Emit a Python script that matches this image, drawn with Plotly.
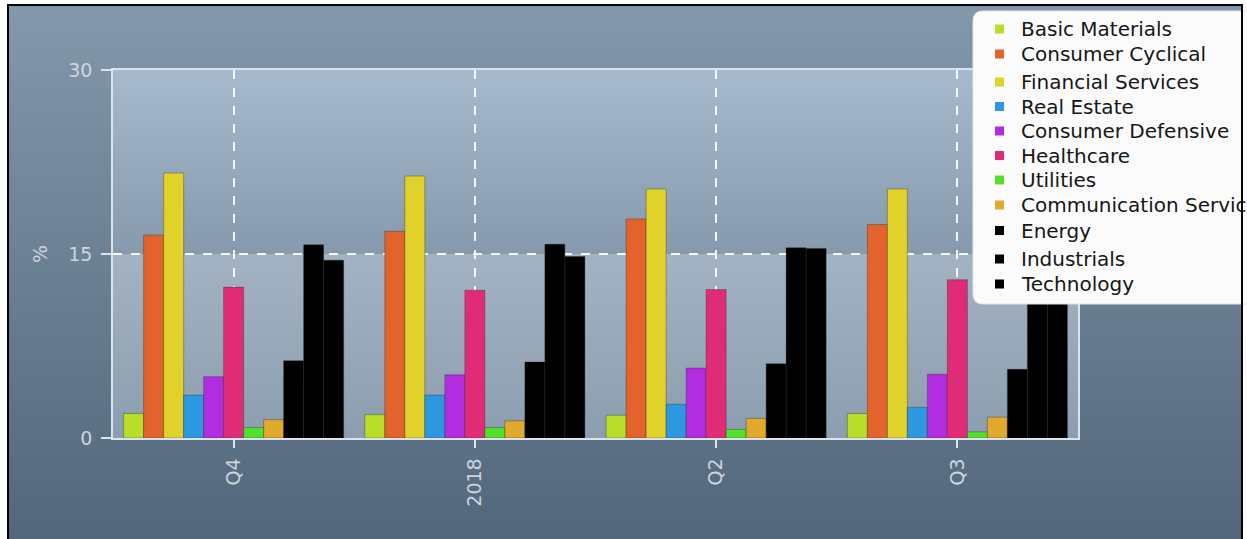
import base64
import plotly.graph_objects as go

# ---------------- data ----------------
categories = ["Q4", "2018", "Q2", "Q3"]

basic_materials = [2.0, 1.9, 1.85, 2.0]
consumer_cyclical = [16.55, 16.85, 17.85, 17.4]
financial_services = [21.6, 21.35, 20.3, 20.3]
real_estate = [3.5, 3.5, 2.75, 2.5]
consumer_defensive = [5.0, 5.15, 5.7, 5.2]
healthcare = [12.3, 12.05, 12.1, 12.9]
utilities = [0.85, 0.85, 0.7, 0.5]
communication_services = [1.5, 1.4, 1.6, 1.7]
energy = [6.3, 6.2, 6.05, 5.6]
industrials = [15.75, 15.8, 15.5, 15.5]
technology = [14.5, 14.8, 15.45, 15.3]

series_names = ["Basic Materials", "Consumer Cyclical", "Financial Services",
                "Real Estate", "Consumer Defensive", "Healthcare", "Utilities",
                "Communication Services", "Energy", "Industrials", "Technology"]
series_values = [basic_materials, consumer_cyclical, financial_services,
                 real_estate, consumer_defensive, healthcare, utilities,
                 communication_services, energy, industrials, technology]
series_colors = ["#b9de2a", "#e2642c", "#e0d22a", "#2d98e0", "#b22ce0",
                 "#e02c76", "#52e02c", "#e0aa2c", "#000000", "#000000", "#000000"]

# ---------------- geometry helpers ----------------
W, H = 1247, 539
ML, MR, MT, MB = 113, 169, 70, 101
PW, PH = W - ML - MR, H - MT - MB


def px2x(px):
    return (px - ML) / PW


def py2y(py):
    return (H - MB - py) / PH


def grad_uri(stops):
    st = "".join(f'<stop offset="{o}" stop-color="{c}"/>' for o, c in stops)
    svg = ('<svg xmlns="http://www.w3.org/2000/svg" width="100" height="100" '
           'viewBox="0 0 100 100" preserveAspectRatio="none"><defs>'
           f'<linearGradient id="g" x1="0" y1="0" x2="0" y2="1">{st}</linearGradient>'
           '</defs><rect width="100" height="100" fill="url(#g)"/></svg>')
    return "data:image/svg+xml;base64," + base64.b64encode(svg.encode()).decode()


outer_bg = grad_uri([(0, "#8498ab"), (1, "#53677c")])
plot_bg = grad_uri([(0, "#a6b9cd"), (0.499, "#8799ad"), (0.5, "#a3b3c3"), (1, "#8c9daf")])

fig = go.Figure()
for name, vals, col in zip(series_names, series_values, series_colors):
    fig.add_trace(go.Bar(
        name=name, x=categories, y=vals, showlegend=False,
        marker=dict(color=col, line=dict(color="rgba(40,40,40,0.35)", width=1)),
    ))

tick_font = dict(family="DejaVu Sans", size=19, color="#cdd5dd")
line_col = "#dde3e9"

# ---------------- custom legend (box, swatches, labels) ----------------
lg_x0, lg_x1, lg_y0, lg_y1, r = 973, 1255, 11, 304, 10
box_path = (f"M{px2x(lg_x0 + r)},{py2y(lg_y0)} H{px2x(lg_x1)} V{py2y(lg_y1)} "
            f"H{px2x(lg_x0 + r)} Q{px2x(lg_x0)},{py2y(lg_y1)} {px2x(lg_x0)},{py2y(lg_y1 - r)} "
            f"V{py2y(lg_y0 + r)} Q{px2x(lg_x0)},{py2y(lg_y0)} {px2x(lg_x0 + r)},{py2y(lg_y0)} Z")
legend_rows = [29, 54, 82, 106.5, 131, 155.5, 180, 205, 230.5, 259, 284]

shapes = [dict(type="path", path=box_path, xref="paper", yref="paper",
               fillcolor="#fbfbfb", line=dict(color="#e6e6e6", width=1), layer="above")]
annotations = []
for name, col, yc in zip(series_names, series_colors, legend_rows):
    shapes.append(dict(type="rect", xref="paper", yref="paper",
                       x0=px2x(995), x1=px2x(1004), y0=py2y(yc - 4.5), y1=py2y(yc + 4.5),
                       fillcolor=col, line=dict(width=0), layer="above"))
    annotations.append(dict(text=name, xref="paper", yref="paper",
                            x=px2x(1019), y=py2y(yc), xanchor="left", yanchor="middle",
                            showarrow=False,
                            font=dict(family="DejaVu Sans", size=20, color="#161616")))

# frame lines
shapes += [
    dict(type="line", xref="paper", yref="paper",
         x0=px2x(8), x1=px2x(8), y0=py2y(5), y1=py2y(H + 2),
         line=dict(color="black", width=2), layer="above"),
    dict(type="line", xref="paper", yref="paper",
         x0=px2x(7), x1=px2x(1243), y0=py2y(5), y1=py2y(5),
         line=dict(color="black", width=2), layer="above"),
    dict(type="line", xref="paper", yref="paper",
         x0=px2x(1242), x1=px2x(1242), y0=py2y(5), y1=py2y(H + 2),
         line=dict(color="black", width=2), layer="above"),
]

fig.update_layout(
    width=W, height=H,
    margin=dict(l=ML, r=MR, t=MT, b=MB, autoexpand=False),
    paper_bgcolor="white",
    plot_bgcolor="rgba(0,0,0,0)",
    barmode="group", bargap=0.088, bargroupgap=0,
    font=dict(family="DejaVu Sans"),
    showlegend=False,
    images=[
        dict(source=outer_bg, xref="paper", yref="paper",
             x=px2x(9), y=py2y(6), sizex=(1242 - 9) / PW, sizey=(H - 6) / PH,
             xanchor="left", yanchor="top", sizing="stretch", layer="below"),
        dict(source=plot_bg, xref="paper", yref="paper",
             x=0, y=1, sizex=1, sizey=1,
             xanchor="left", yanchor="top", sizing="stretch", layer="below"),
    ],
    shapes=shapes,
    annotations=annotations,
    xaxis=dict(
        type="category", showgrid=True, gridcolor="rgba(255,255,255,0.9)",
        griddash="dash", gridwidth=1.5,
        ticks="outside", ticklen=8, tickcolor=line_col, tickwidth=1.5,
        tickangle=-90, tickfont=tick_font, ticklabelstandoff=3,
        showline=True, linecolor=line_col, linewidth=1.5, mirror=True,
    ),
    yaxis=dict(
        range=[0, 30], tickvals=[0, 15, 30], showgrid=True,
        gridcolor="rgba(255,255,255,0.9)", griddash="dash", gridwidth=1.5,
        zeroline=False,
        ticks="outside", ticklen=10, tickcolor=line_col, tickwidth=1.5,
        tickfont=tick_font, ticklabelstandoff=5,
        showline=True, linecolor=line_col, linewidth=1.5, mirror=True,
        title=dict(text="%", font=tick_font, standoff=16),
    ),
)

fig.write_html("out.html")
